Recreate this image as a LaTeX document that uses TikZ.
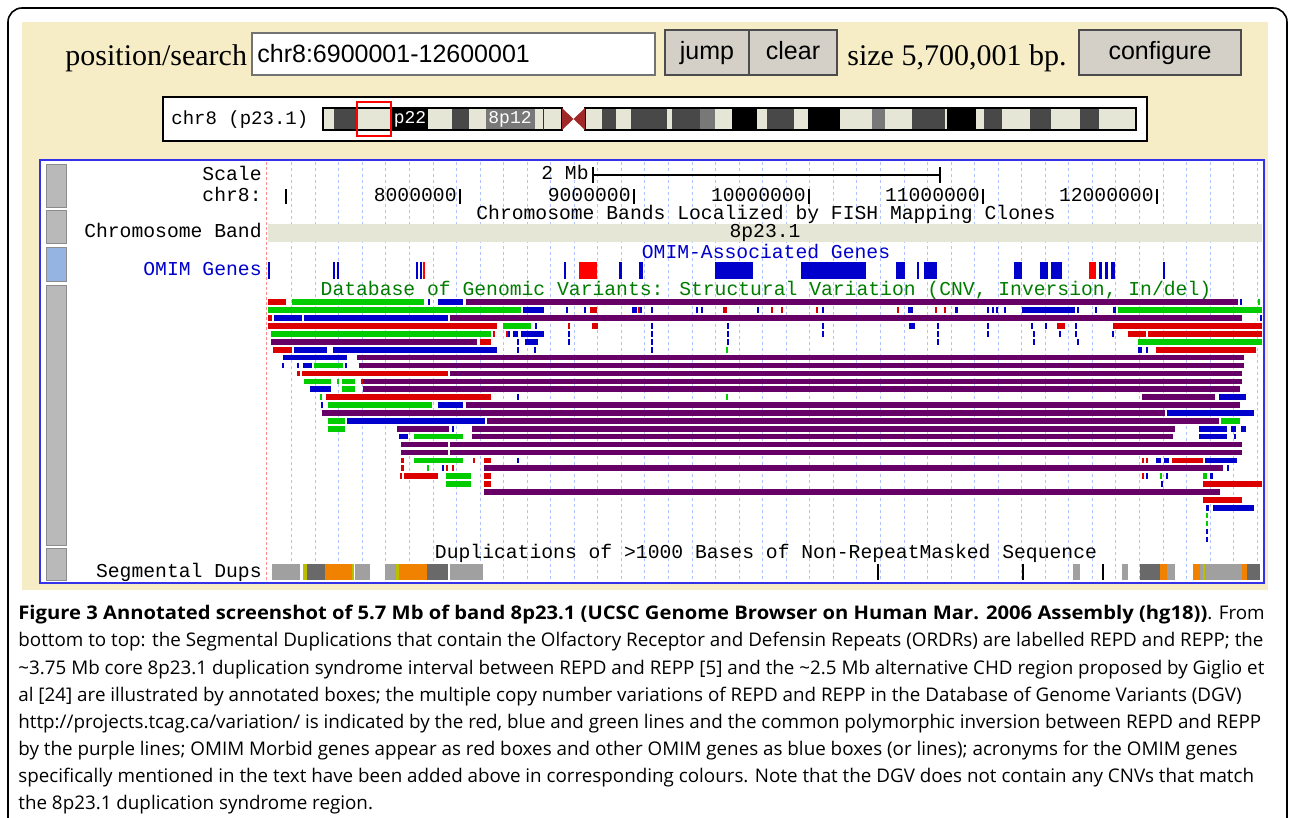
\documentclass[tikz,border=0pt]{standalone}
\usepackage{fontspec}
\setmainfont{Liberation Serif}
\newfontfamily\trackfont{Liberation Mono}
\newfontfamily\uifont{Liberation Sans}
\newfontfamily\capfont{Open Sans}
\usetikzlibrary{positioning}
\definecolor{pagebg}{RGB}{246,236,198}
\definecolor{btnface}{RGB}{212,208,200}
\definecolor{framblue}{RGB}{50,50,235}
\definecolor{gridblue}{RGB}{175,195,255}
\definecolor{gridred}{RGB}{255,140,140}
\definecolor{bandlt}{RGB}{230,230,214}
\definecolor{banddk}{RGB}{72,72,72}
\definecolor{bandgy}{RGB}{120,120,120}
\definecolor{centro}{RGB}{160,40,40}
\definecolor{dgvred}{RGB}{220,0,0}
\definecolor{dgvgreen}{RGB}{0,204,0}
\definecolor{dgvblue}{RGB}{0,0,204}
\definecolor{dgvpurple}{RGB}{102,0,102}
\definecolor{omimred}{RGB}{255,0,0}
\definecolor{trkgreen}{RGB}{0,125,0}
\definecolor{sdgrey}{RGB}{160,160,160}
\definecolor{sddark}{RGB}{105,105,105}
\definecolor{sdorange}{RGB}{240,130,0}
\definecolor{sdyellow}{RGB}{190,190,0}
\definecolor{tabgrey}{RGB}{185,185,185}
\definecolor{tabblue}{RGB}{150,180,225}

\begin{document}
\begin{tikzpicture}[x=0.5pt,y=-0.5pt,
  trk/.style={font=\trackfont\fontsize{9.85}{11}\selectfont, inner sep=0pt},
  lbl/.style={trk, anchor=base east},
  ttl/.style={trk, anchor=base},
  ui/.style={font=\uifont\fontsize{12.5}{14}\selectfont, inner sep=0pt, anchor=base},
  btn/.style={fill=btnface, draw=black!70, line width=0.6pt},
  tick/.style={line width=1pt},
  grid/.style={gridblue, line width=0.5pt, dash pattern=on 1.5pt off 1.5pt}]
  \useasboundingbox (0,0) rectangle (1290,818);
  \fill[white] (0,0) rectangle (1290,818);

  % Figure frame
  \draw[line width=0.8pt, rounded corners=7pt] (8,840) -- (8,8) -- (1287,8) -- (1287,840);

  % Browser background
  \fill[pagebg] (22,22) rectangle (1268,590);

  % Position bar
  \node[anchor=base west, inner sep=0pt, font=\fontsize{15}{17}\selectfont] (poslabel) at (65,66) {position/search};
  \draw[fill=white, draw=black!55, line width=0.8pt] (252,33) rectangle (655,75);
  \node[ui, anchor=base west] (posinput) at (257,63) {chr8:6900001-12600001};
  \draw[btn] (665,30) rectangle (749,75);
  \node[ui] (jumpbtn) at (707,60) {jump};
  \draw[btn] (749,30) rectangle (837,75);
  \node[ui] (clearbtn) at (793,60) {clear};
  \node[anchor=base west, inner sep=0pt, font=\fontsize{15}{17}\selectfont] (sizelabel) at (847,66) {size 5,700,001 bp.};
  \draw[btn] (1079,30) rectangle (1241,75);
  \node[ui] (cfgbtn) at (1160,60) {configure};

  % Chromosome ideogram
  \draw[fill=white, line width=1pt] (163,97) rectangle (1147,141);
  \node[trk, anchor=base west, font=\trackfont\fontsize{9.5}{11}\selectfont] (chrlabel) at (171,125) {chr8 (p23.1)};
  \foreach \a/\b/\c in {323/334/bandlt, 334/356/banddk, 356/392/bandlt, 392/428/black,
      428/452/bandlt, 452/469/banddk, 469/486/bandlt, 486/535/bandgy, 535/562/bandlt,
      585/602/bandlt, 602/616/banddk, 616/631/bandlt, 631/667/banddk, 667/672/bandlt,
      672/700/banddk, 700/715/bandgy, 715/732/bandlt, 732/757/black, 757/767/bandlt,
      767/794/banddk, 794/808/bandlt, 808/840/black, 840/872/bandlt, 872/885/bandgy,
      885/912/bandlt, 912/945/banddk, 945/947/bandlt, 947/976/black, 976/984/bandlt,
      984/1002/banddk, 1002/1030/bandlt, 1030/1051/banddk, 1051/1080/bandlt,
      1080/1099/banddk, 1099/1136/bandlt}
    \fill[\c] (\a,108) rectangle (\b,130);
  \draw[line width=0.6pt] (323,108) rectangle (562,130);
  \draw[line width=0.6pt] (585,108) rectangle (1136,130);
  \draw[black!80] (543,108) -- (543,130);
  \fill[centro] (562,108) -- (573.5,119) -- (585,108) -- (585,130) -- (573.5,119) -- (562,130) -- cycle;
  \node[trk, text=white, font=\trackfont\fontsize{9}{11}\selectfont] (p22) at (410,119) {p22};
  \node[trk, text=white, font=\trackfont\fontsize{9}{11}\selectfont] (p12) at (510,119) {8p12};
  \draw[omimred, line width=1.2pt] (357,102) rectangle (391,136);

  % Track frame
  \fill[white] (40,160) rectangle (1264,583);
  \draw[framblue, line width=1.2pt] (40,160) rectangle (1264,583);
  \foreach \t/\u/\c in {164/207/tabgrey, 210/243/tabgrey, 247/281/tabblue, 285/545/tabgrey, 548/580/tabgrey}
    \draw[fill=\c, draw=black!45] (46,\t) rectangle (66,\u);

  % Grid
  \draw[gridred, line width=0.5pt, dash pattern=on 1.5pt off 1pt] (266,162) -- (266,581);
  \foreach \k in {0,...,41}
    \draw[grid] ({291.7+23.55*\k},162) -- ({291.7+23.55*\k},581);

  % Track labels
  \node[lbl] (scalelabel) at (262,181) {Scale};
  \node[lbl] (chrrowlabel) at (262,202) {chr8:};
  \node[lbl] (bandlabel) at (262,238) {Chromosome Band};
  \node[lbl, text=dgvblue] (omimlabel) at (262,276) {OMIM Genes};
  \node[lbl] (segduplabel) at (262,577) {Segmental Dups};

  % Scale and ruler
  \node[lbl] (mbtext) at (589,180) {2 Mb};
  \draw[tick] (593,167) -- (593,183);
  \draw[tick] (940,167) -- (940,183);
  \draw[line width=0.8pt] (593,175) -- (940,175);
  \draw[tick] (286,189) -- (286,204);
  \foreach \p/\x in {8000000/460, 9000000/634, 10000000/809, 11000000/983, 12000000/1157} {
    \draw[tick] (\x,189) -- (\x,204);
    \node[lbl] at (\x-3,202) {\p};
  }

  % Chromosome band track
  \node[ttl] (fishtitle) at (766,220) {Chromosome Bands Localized by FISH Mapping Clones};
  \fill[bandlt] (268,224) rectangle (1262,242);
  \node[ttl] (bandname) at (765,238) {8p23.1};

  % OMIM genes
  \node[ttl, text=dgvblue] (omimtitle) at (766,258) {OMIM-Associated Genes};
  \foreach \a/\b in {268/270, 333/335, 337/339, 416/418, 420/422, 564/566, 619/622,
      639/643, 715/753, 801/866, 896/905, 917/919, 924/937, 1014/1022, 1040/1048,
      1051/1062, 1099/1102, 1105/1108, 1111/1115, 1163/1165}
    \fill[dgvblue] (\a,262) rectangle (\b,279);
  \foreach \a/\b in {423/425, 579/597, 1089/1096}
    \fill[omimred] (\a,262) rectangle (\b,279);

  % Database of Genomic Variants
  \node[ttl, text=trkgreen] (dgvtitle) at (766,295) {Database of Genomic Variants: Structural Variation (CNV, Inversion, In/del)};
  \foreach \r/\a/\b in {0/466/1238, 2/450/1242, 5/271/477, 7/357/1244, 8/359/1244,
      9/450/1242, 10/363/1242, 11/363/1240, 12/1142/1215, 13/466/1240, 14/322/1165,
      15/487/1219, 16/397/449, 16/472/1175, 17/472/1173, 18/401/448, 18/450/1242,
      19/401/448, 19/450/1242, 21/484/1223, 24/484/1220}
    \fill[dgvpurple] (\a,{302.3+7.9*\r-2.8}) rectangle (\b,{302.3+7.9*\r+2.8});
  \foreach \r/\a/\b in {0/268/286, 1/590/597, 1/723/727, 2/268/272, 3/268/497,
      3/592/598, 3/1057/1065, 3/1113/1262, 4/1128/1146, 4/1148/1262, 5/480/491,
      6/273/292, 6/1156/1256, 9/297/300, 9/302/448, 12/326/491, 20/401/404,
      20/484/491, 20/1172/1203, 21/401/404, 22/404/438, 22/484/491, 23/484/491,
      23/1203/1262, 25/1203/1242}
    \fill[dgvred] (\a,{302.3+7.9*\r-2.8}) rectangle (\b,{302.3+7.9*\r+2.8});
  \foreach \r/\a/\b in {0/292/424, 1/268/521, 1/1118/1262, 3/503/531, 4/271/491,
      5/1138/1262, 8/314/343, 10/304/331, 10/342/355, 11/342/355, 13/328/432,
      15/328/345, 15/1221/1240, 16/328/345, 17/414/463, 20/414/463, 22/446/471,
      22/1203/1207, 23/446/471}
    \fill[dgvgreen] (\a,{302.3+7.9*\r-2.8}) rectangle (\b,{302.3+7.9*\r+2.8});
  \foreach \r/\a/\b in {0/438/463, 1/523/544, 1/632/637, 1/908/913, 1/955/958,
      1/1022/1075, 1/1113/1116, 2/274/302, 2/304/448, 3/909/915, 4/513/518, 4/521/544,
      5/525/538, 6/294/327, 6/333/497, 6/1138/1142, 7/283/347, 8/303/312, 11/310/331,
      12/1219/1246, 13/438/463, 14/1167/1254, 15/347/485, 16/1199/1227, 16/1231/1236,
      16/1241/1246, 17/399/408, 17/1199/1227, 20/1156/1161, 20/1164/1169,
      20/1205/1237, 22/1210/1213, 26/1206/1209, 26/1213/1254}
    \fill[dgvblue] (\a,{302.3+7.9*\r-2.8}) rectangle (\b,{302.3+7.9*\r+2.8});
  % thin ticks
  \foreach \r/\a in {1/639, 1/772, 1/782, 1/817, 1/898, 1/936, 1/945, 3/569, 4/494,
      4/507, 10/362, 20/474, 20/1143, 20/1147, 21/447, 21/453, 22/401, 22/1143}
    \fill[dgvred] (\a-0.9,{302.3+7.9*\r-2.8}) rectangle (\a+0.9,{302.3+7.9*\r+2.8});
  \foreach \r/\a in {0/1259, 6/727, 10/338, 12/321, 12/727, 21/428, 22/1161,
      27/1207, 28/1207}
    \fill[dgvgreen] (\a-0.9,{302.3+7.9*\r-2.8}) rectangle (\a+0.9,{302.3+7.9*\r+2.8});
  \foreach \r/\a in {0/429, 0/1241, 1/567, 1/585, 1/641, 1/652, 1/697, 1/702, 1/758,
      1/823, 1/988, 1/993, 1/997, 1/1005, 1/1078, 1/1096, 2/1261, 3/536, 3/652, 3/728,
      3/823, 3/938, 3/988, 3/1032, 3/1046, 3/1076, 4/509, 4/569, 4/652, 4/728, 4/823,
      4/938, 4/988, 4/1034, 4/1060, 4/1076, 4/1113, 5/518, 5/569, 5/652, 5/728, 5/938,
      5/1034, 5/1078, 6/518, 6/535, 6/652, 6/1147, 8/283, 8/298, 8/346, 12/518,
      13/322, 16/453, 17/1235, 20/518, 21/443, 21/1228, 22/1147, 22/1167, 23/1162,
      29/1207, 30/1207}
    \fill[dgvblue] (\a-0.9,{302.3+7.9*\r-2.8}) rectangle (\a+0.9,{302.3+7.9*\r+2.8});

  % Segmental duplications
  \node[ttl] (segduptitle) at (766,558) {Duplications of >1000 Bases of Non-RepeatMasked Sequence};
  \foreach \a/\b/\c in {272/300/sdgrey, 303/307/sdyellow, 307/325/sddark, 325/352/sdorange,
      352/354/sdyellow, 355/370/sdgrey, 385/396/sdgrey, 396/399/sdyellow,
      399/427/sdorange, 427/448/sddark, 450/483/sdgrey, 1073/1080/sdgrey,
      1122/1128/sdgrey, 1140/1160/sddark, 1160/1167/sdorange, 1167/1175/sdgrey,
      1193/1200/sdorange, 1200/1203/sdgrey, 1203/1205/sdyellow, 1205/1242/sdgrey,
      1242/1247/sdorange, 1247/1260/sddark}
    \fill[\c] (\a,564) rectangle (\b,580);
  \foreach \x in {878, 1023, 1103}
    \draw[line width=0.7pt] (\x,564) -- (\x,580);

  % Caption
  \node[anchor=north west, inner sep=0pt, align=left,
        font=\capfont\fontsize{9.4}{13.57}\selectfont] (caption) at (18,605)
    {\scalebox{1.075}[1]{\textbf{Figure 3 Annotated screenshot of 5.7 Mb of band 8p23.1 (UCSC Genome Browser on Human Mar. 2006 Assembly (hg18))}}. From\\
     bottom to top: the Segmental Duplications that contain the Olfactory Receptor and Defensin Repeats (ORDRs) are labelled REPD and REPP; the\\
     \textasciitilde3.75 Mb core 8p23.1 duplication syndrome interval between REPD and REPP [5] and the \textasciitilde2.5 Mb alternative CHD region proposed by Giglio et\\
     al [24] are illustrated by annotated boxes; the multiple copy number variations of REPD and REPP in the Database of Genome Variants (DGV)\\
     http://projects.tcag.ca/variation/ is indicated by the red, blue and green lines and the common polymorphic inversion between REPD and REPP\\
     by the purple lines; OMIM Morbid genes appear as red boxes and other OMIM genes as blue boxes (or lines); acronyms for the OMIM genes\\
     specifically mentioned in the text have been added above in corresponding colours. Note that the DGV does not contain any CNVs that match\\
     the 8p23.1 duplication syndrome region.};
\end{tikzpicture}
\end{document}
